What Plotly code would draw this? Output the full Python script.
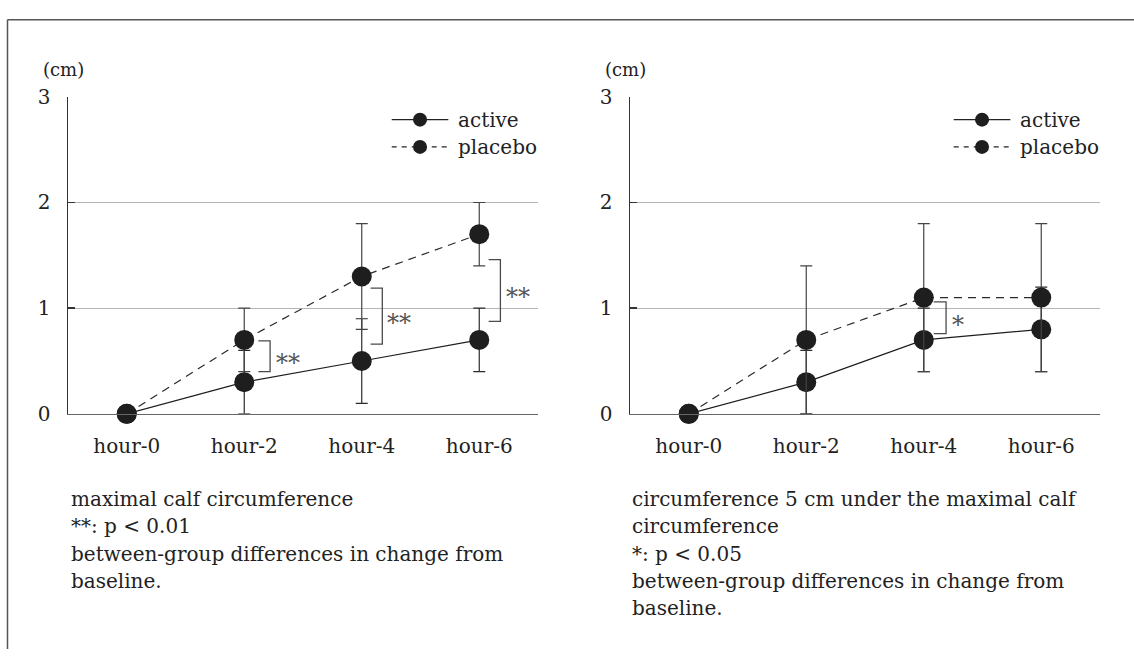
import plotly.graph_objects as go

# ---------------- data ----------------
categories = ["hour-0", "hour-2", "hour-4", "hour-6"]
y_ticks = [0, 1, 2, 3]

left_active = [0, 0.3, 0.5, 0.7]
left_active_err = [0, 0.3, 0.4, 0.3]
left_placebo = [0, 0.7, 1.3, 1.7]
left_placebo_err = [0, 0.3, 0.5, 0.3]

right_active = [0, 0.3, 0.7, 0.8]
right_active_err = [0, 0.3, 0.3, 0.4]
right_placebo = [0, 0.7, 1.1, 1.1]
right_placebo_err = [0, 0.7, 0.7, 0.7]

# significance brackets: category index, low, high, label
left_sig_idx = [1, 2, 3]
left_sig_low = [0.40, 0.66, 0.875]
left_sig_high = [0.69, 1.19, 1.46]
left_sig_label = ["**", "**", "**"]

right_sig_idx = [2]
right_sig_low = [0.76]
right_sig_high = [1.06]
right_sig_label = ["*"]

left_caption = [
    "maximal calf circumference",
    "**: p < 0.01",
    "between-group differences in change from",
    "baseline.",
]
right_caption = [
    "circumference 5 cm under the maximal calf",
    "circumference",
    "*: p < 0.05",
    "between-group differences in change from",
    "baseline.",
]

FONT = "DejaVu Serif"
W, H = 1134, 661
px = lambda v: v / W
py = lambda v: 1 - v / H

fig = go.Figure()
xs = list(range(len(categories)))

def add_panel(xa, ya, active, aerr, placebo, perr):
    fig.add_trace(go.Scatter(
        x=xs, y=active, xaxis=xa, yaxis=ya, mode="lines+markers",
        line=dict(color="#1e1e1e", width=1.2),
        marker=dict(size=20, color="#1e1e1e"),
        error_y=dict(type="data", array=aerr, visible=True, color="#2a2a2a",
                     thickness=1.2, width=6),
        cliponaxis=False, showlegend=False, name="active"))
    fig.add_trace(go.Scatter(
        x=xs, y=placebo, xaxis=xa, yaxis=ya, mode="lines+markers",
        line=dict(color="#2a2a2a", width=1.2, dash="8px,6px"),
        marker=dict(size=20, color="#1e1e1e"),
        error_y=dict(type="data", array=perr, visible=True, color="#444444",
                     thickness=1.2, width=6),
        cliponaxis=False, showlegend=False, name="placebo"))

add_panel("x", "y", left_active, left_active_err, left_placebo, left_placebo_err)
add_panel("x2", "y2", right_active, right_active_err, right_placebo, right_placebo_err)

ydom = [py(417), py(88)]
xdom1 = [px(68), px(538)]
xdom2 = [px(630), px(1100)]

axis_x = dict(range=[-0.5, 3.5], tickmode="array", tickvals=xs, ticktext=categories,
              showgrid=False, zeroline=False, showline=True, linecolor="#666666",
              linewidth=1.5, ticks="", ticklabelstandoff=14,
              tickfont=dict(family=FONT, size=20, color="#222222"), fixedrange=True)
axis_y = dict(range=[0, 3], tickmode="array", tickvals=y_ticks,
              showgrid=True, gridcolor="#b4b4b4", gridwidth=1, zeroline=False,
              showline=True, linecolor="#333333", linewidth=1.5,
              ticks="inside", ticklen=7, tickcolor="#333333", tickwidth=1.5,
              ticklabelstandoff=12,
              tickfont=dict(family=FONT, size=20, color="#222222"), fixedrange=True)

fig.update_layout(
    width=W, height=H, autosize=False,
    margin=dict(l=0, r=0, t=0, b=0),
    paper_bgcolor="white", plot_bgcolor="white",
    hovermode=False,
    xaxis=dict(axis_x, domain=xdom1, anchor="y"),
    yaxis=dict(axis_y, domain=ydom, anchor="x"),
    xaxis2=dict(axis_x, domain=xdom2, anchor="y2"),
    yaxis2=dict(axis_y, domain=ydom, anchor="x2"),
)

shapes = []
annotations = []

# outer frame (top and left)
shapes.append(dict(type="line", xref="paper", yref="paper", x0=px(7.5), x1=1, y0=py(8), y1=py(8),
                   line=dict(color="#555555", width=1.5)))
shapes.append(dict(type="line", xref="paper", yref="paper", x0=px(7.5), x1=px(7.5), y0=py(8), y1=0,
                   line=dict(color="#555555", width=1.5)))

# "(cm)" unit labels
for cx in [63, 625]:
    annotations.append(dict(xref="paper", yref="paper", x=px(cx), y=py(60), text="(cm)",
                            showarrow=False, xanchor="center", yanchor="middle",
                            font=dict(family=FONT, size=18, color="#222222")))

# significance brackets
left_off = [(0.12, 0.22, 0.37), (0.075, 0.175, 0.32), (0.08, 0.18, 0.33)]
right_off = [(0.085, 0.19, 0.29)]

def add_brackets(xr, yr, idxs, lows, highs, labels, offs):
    for i, lo, hi, lab, (oa, ov, ot) in zip(idxs, lows, highs, labels, offs):
        xa, xv = i + oa, i + ov
        shapes.append(dict(type="path", xref=xr, yref=yr,
                           path=f"M {xa},{hi} L {xv},{hi} L {xv},{lo} L {xa},{lo}",
                           line=dict(color="#4a4a4a", width=1.3)))
        annotations.append(dict(xref=xr, yref=yr, x=i + ot, y=(lo + hi) / 2, text=lab,
                                showarrow=False, xanchor="center", yanchor="middle", yshift=-7,
                                font=dict(family=FONT, size=24, color="#555555")))

add_brackets("x", "y", left_sig_idx, left_sig_low, left_sig_high, left_sig_label, left_off)
add_brackets("x2", "y2", right_sig_idx, right_sig_low, right_sig_high, right_sig_label, right_off)

# legends (drawn manually)
def add_legend(xr, yr):
    rows = [("active", 2.784, "solid"), ("placebo", 2.526, "5px,5px")]
    for name, yy, dash in rows:
        shapes.append(dict(type="line", xref=xr, yref=yr, x0=2.255, x1=2.737, y0=yy, y1=yy,
                           line=dict(color="#222222", width=1.2, dash=dash)))
        shapes.append(dict(type="circle", xref=xr, yref=yr, xsizemode="pixel", ysizemode="pixel",
                           xanchor=2.496, yanchor=yy, x0=-7, x1=7, y0=-7, y1=7,
                           fillcolor="#1e1e1e", line=dict(color="#1e1e1e", width=0)))
        annotations.append(dict(xref=xr, yref=yr, x=2.80, y=yy, text=name, showarrow=False,
                                xanchor="left", yanchor="middle",
                                font=dict(family=FONT, size=20, color="#222222")))

add_legend("x", "y")
add_legend("x2", "y2")

# captions
cap_y = [505, 533, 562, 590, 618]
for cx, lines in [(69, left_caption), (630, right_caption)]:
    for line, yy in zip(lines, cap_y):
        annotations.append(dict(xref="paper", yref="paper", x=px(cx), y=py(yy), text=line,
                                showarrow=False, xanchor="left", yanchor="middle",
                                font=dict(family=FONT, size=20, color="#222222")))

fig.update_layout(shapes=shapes, annotations=annotations)
fig.write_html("out.html", config={"displayModeBar": False, "staticPlot": True},
               post_script="document.body.style.margin='0px';document.body.style.overflow='hidden';")
